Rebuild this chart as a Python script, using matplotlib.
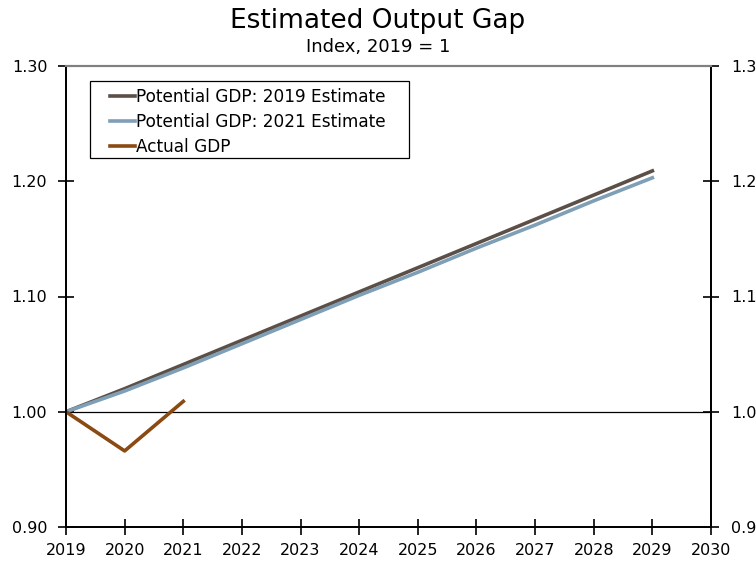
import numpy as np
import matplotlib
matplotlib.use("Agg")
import matplotlib.pyplot as plt
import matplotlib.ticker as mticker
from matplotlib.patches import Rectangle

plt.rcParams['font.family'] = ['DejaVu Sans']

years = np.arange(2019, 2030)
pot_2019 = [1.000, 1.020, 1.041, 1.062, 1.083, 1.104, 1.125, 1.146, 1.167, 1.188, 1.209]
pot_2021 = [1.000, 1.018, 1.038, 1.059, 1.080, 1.101, 1.121, 1.142, 1.162, 1.183, 1.203]
act_years = [2019, 2020, 2021]
actual = [1.000, 0.966, 1.009]

fig = plt.figure(figsize=(7.56, 5.63), dpi=100)
ax = fig.add_axes([66/756, 1-527/563, (711-66)/756, (527-66)/563])

ax.plot(years, pot_2019, color='#5c4f48', lw=2.6, label='Potential GDP: 2019 Estimate', zorder=3)
ax.plot(years, pot_2021, color='#7e9fb5', lw=2.6, label='Potential GDP: 2021 Estimate', zorder=3)
ax.plot(act_years, actual, color='#8b4a12', lw=2.6, label='Actual GDP', zorder=3)
ax.axhline(1.0, color='black', lw=0.9, zorder=2)

ax.set_xlim(2019, 2030)
ax.set_ylim(0.90, 1.30)
ax.set_xticks(range(2019, 2031))
ax.set_yticks([0.90, 1.00, 1.10, 1.20, 1.30])
ax.yaxis.set_major_formatter(mticker.FormatStrFormatter('%.2f'))
ax.tick_params(direction='inout', length=11, width=1.2, labelsize=11.5)
ax.tick_params(axis='y', pad=8)
ax.tick_params(axis='x', pad=6)

ax2 = ax.twinx()
ax2.set_ylim(0.90, 1.30)
ax2.set_yticks([0.90, 1.00, 1.10, 1.20, 1.30])
ax2.yaxis.set_major_formatter(mticker.FormatStrFormatter('%.1f'))
ax2.tick_params(direction='inout', length=11, width=1.2, labelsize=11.5, pad=9)

for a in (ax, ax2):
    for s in ('left', 'right', 'bottom'):
        a.spines[s].set_linewidth(1.3)
        a.spines[s].set_color('black')
    a.spines['top'].set_color('#808080')
    a.spines['top'].set_linewidth(1.5)

# legend box drawn separately so the side padding can be wider than the top/bottom
ax.add_patch(Rectangle((0.0372, 0.800), 0.495, 0.1675, transform=ax.transAxes,
                       facecolor='white', edgecolor='black', lw=0.9, zorder=4))
leg = ax.legend(loc='upper left', bbox_to_anchor=(0.068, 0.953), fontsize=12.2,
                frameon=False, handlelength=1.5, handletextpad=0.05,
                borderpad=0, labelspacing=0.42, borderaxespad=0)
leg.set_zorder(5)

fig.text(0.5, 0.963, 'Estimated Output Gap', ha='center', va='center', fontsize=19)
fig.text(0.5, 0.917, 'Index, 2019 = 1', ha='center', va='center', fontsize=13)

fig.savefig('out.png', dpi=100)
